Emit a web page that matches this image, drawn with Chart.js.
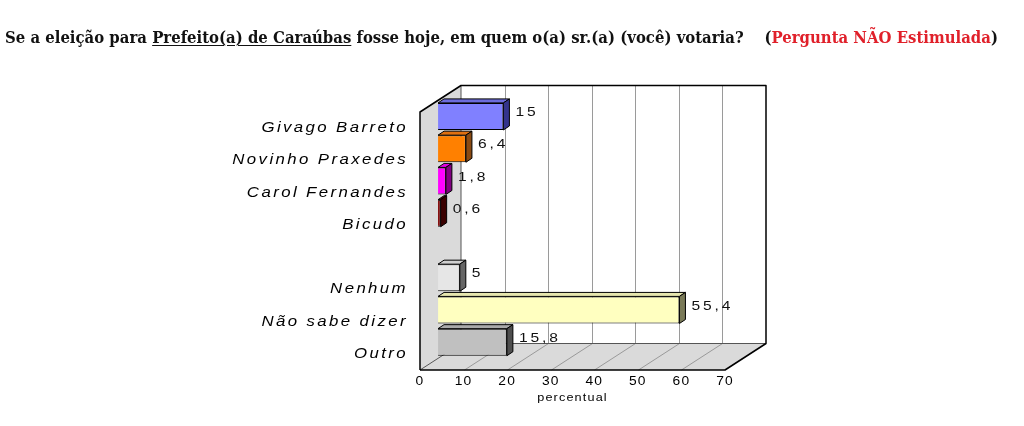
<!DOCTYPE html>
<html><head><meta charset="utf-8">
<script src="https://cdn.jsdelivr.net/npm/chart.js@4/dist/chart.umd.min.js"></script>
<style>
html,body{margin:0;padding:0;background:#fff;width:1024px;height:426px;overflow:hidden;}
#wrap{position:relative;width:1024px;height:426px;}
#title{position:absolute;left:5px;top:28px;line-height:20px;white-space:nowrap;font-family:'DejaVu Serif',serif;font-weight:bold;font-size:16.5px;color:#111;transform-origin:0 0;}
#title u{text-decoration:underline;text-underline-offset:2px;}
#title .red{color:#e0202a;}
canvas{position:absolute;left:0;top:0;}
</style></head>
<body><div id="wrap"><canvas id="c" width="1024" height="426"></canvas>
<div id="title">Se a eleição para <u>Prefeito(a) de Caraúbas</u> fosse hoje, em quem o(a) sr.(a) (você) votaria?&nbsp;&nbsp;&nbsp; (<span class="red">Pergunta NÃO Estimulada</span>)</div></div>
<script>
// ---- data ----
const categories = ['Givago Barreto', 'Novinho Praxedes', 'Carol Fernandes', 'Bicudo', '', 'Nenhum', 'Não sabe dizer', 'Outro'];
const values = [15, 6.4, 1.8, 0.6, null, 5, 55.4, 15.8];
const xTicks = [0, 10, 20, 30, 40, 50, 60, 70];
const xTitle = 'percentual';

// ---- styles ----
const barColors  = ['#8080ff', '#ff8000', '#ff00ff', '#800000', '#ffffff', '#e6e6e6', '#ffffc0', '#c0c0c0'];
const topColors  = ['#6c6cdc', '#e07010', '#e000e0', '#6a0000', '#ffffff', '#cfcfcf', '#e6e6ae', '#aaaaaa'];
const sideColors = ['#34348c', '#8a4a12', '#800080', '#3a0000', '#ffffff', '#666666', '#7a7a58', '#4e4e4e'];

// fit title width
const tEl = document.getElementById('title');
const tw = tEl.getBoundingClientRect().width;
tEl.style.transform = 'scaleX(' + (993 / tw) + ')';

const DX = 41, DY = -26.5;      // wall depth
const BT = 0.44;                // bar plane position in depth
const BX = 6, BY = -4;          // bar depth

// draw text horizontally stretched (like the original wide font) with letter spacing
function withStretch(ctx, sx, ls, fn) {
  ctx.save();
  ctx.letterSpacing = ls + 'px';
  const orig = CanvasRenderingContext2D.prototype.fillText;
  ctx.fillText = function (txt, x, y) {
    this.save(); this.translate(x, y); this.scale(sx, 1);
    orig.call(this, txt, 0, 0);
    this.restore();
  };
  try { fn(); } finally { delete ctx.fillText; ctx.restore(); }
}

const frame3d = {
  id: 'frame3d',
  beforeDraw(chart) {
    const ctx = chart.ctx;
    const {x, y} = chart.scales;
    if (!y._wrapped) {
      const oy = y.drawLabels.bind(y);
      y.drawLabels = a => withStretch(ctx, 1.2, 2, () => oy(a));
      const ox = x.drawLabels.bind(x);
      x.drawLabels = a => withStretch(ctx, 1.15, 1, () => ox(a));
      const ot = x.drawTitle.bind(x);
      x.drawTitle = () => withStretch(ctx, 1.15, 1, () => ot());
      y._wrapped = true;
    }
  },
  beforeDatasetsDraw(chart) {
    const {ctx, chartArea: a, scales: {x}} = chart;
    const L = a.left, R = a.right, T = a.top, B = a.bottom;
    ctx.save();
    ctx.lineJoin = 'round';
    // side wall
    ctx.beginPath();
    ctx.moveTo(L, T); ctx.lineTo(L + DX, T + DY); ctx.lineTo(L + DX, B + DY); ctx.lineTo(L, B); ctx.closePath();
    ctx.fillStyle = '#dadada'; ctx.fill();
    // back wall
    ctx.fillStyle = '#ffffff';
    ctx.fillRect(L + DX, T + DY, R - L, B - T);
    // floor
    ctx.beginPath();
    ctx.moveTo(L, B); ctx.lineTo(R, B); ctx.lineTo(R + DX, B + DY); ctx.lineTo(L + DX, B + DY); ctx.closePath();
    ctx.fillStyle = '#dadada'; ctx.fill();
    // grid lines
    ctx.strokeStyle = '#9a9a9a'; ctx.lineWidth = 1;
    xTicks.forEach(v => {
      if (v <= x.min || v >= x.max) return;
      const px = Math.round(x.getPixelForValue(v)) + 0.5;
      ctx.beginPath();
      ctx.moveTo(px + DX, T + DY); ctx.lineTo(px + DX, B + DY);
      ctx.stroke();
      ctx.beginPath();
      ctx.moveTo(px, B); ctx.lineTo(px + DX, B + DY);
      ctx.stroke();
    });
    // inner edges
    ctx.strokeStyle = '#555'; ctx.lineWidth = 1;
    ctx.beginPath();
    ctx.moveTo(L + DX, T + DY); ctx.lineTo(L + DX, B + DY); ctx.lineTo(R + DX, B + DY);
    ctx.moveTo(L + DX, B + DY); ctx.lineTo(L, B);
    ctx.stroke();
    // outer edges
    ctx.strokeStyle = '#000'; ctx.lineWidth = 1.5;
    ctx.beginPath();
    ctx.moveTo(L, B); ctx.lineTo(L, T); ctx.lineTo(L + DX, T + DY); ctx.lineTo(R + DX, T + DY);
    ctx.lineTo(R + DX, B + DY); ctx.lineTo(R, B); ctx.lineTo(L, B);
    ctx.stroke();
    ctx.restore();
    // move bars into their depth plane
    ctx.save();
    ctx.translate(DX * BT, DY * BT);
  },
  afterDatasetsDraw(chart) {
    const ctx = chart.ctx;
    ctx.restore();
    const ox = DX * BT, oy = DY * BT;
    const meta = chart.getDatasetMeta(0);
    ctx.save();
    ctx.lineWidth = 1; ctx.strokeStyle = '#000'; ctx.lineJoin = 'round';
    meta.data.forEach((bar, i) => {
      if (values[i] == null) return;
      const l = bar.base + ox, r = bar.x + ox;
      const t = bar.y - bar.height / 2 + oy, b = bar.y + bar.height / 2 + oy;
      // top face
      ctx.beginPath();
      ctx.moveTo(l, t); ctx.lineTo(l + BX, t + BY); ctx.lineTo(r + BX, t + BY); ctx.lineTo(r, t); ctx.closePath();
      ctx.fillStyle = topColors[i]; ctx.fill(); ctx.stroke();
      // side face
      ctx.beginPath();
      ctx.moveTo(r, t); ctx.lineTo(r + BX, t + BY); ctx.lineTo(r + BX, b + BY); ctx.lineTo(r, b); ctx.closePath();
      ctx.fillStyle = sideColors[i]; ctx.fill(); ctx.stroke();
      // value label
      withStretch(ctx, 1.2, 2.4, () => {
        ctx.fillStyle = '#111';
        ctx.font = '13px "Liberation Sans", Arial, sans-serif';
        ctx.textAlign = 'left'; ctx.textBaseline = 'middle';
        ctx.fillText(String(values[i]).replace('.', ','), r + BX + 6, (t + b) / 2 - 4);
      });
    });
    ctx.restore();
  }
};

new Chart(document.getElementById('c'), {
  type: 'bar',
  data: {
    labels: categories,
    datasets: [{
      data: values,
      backgroundColor: barColors,
      borderColor: '#000',
      borderWidth: 1,
      barPercentage: 0.84,
      categoryPercentage: 1,
      clip: false
    }]
  },
  options: {
    indexAxis: 'y',
    responsive: false,
    animation: false,
    devicePixelRatio: 1,
    layout: {padding: {left: 0, top: 112, right: 299, bottom: 0}},
    plugins: {legend: {display: false}, tooltip: {enabled: false}},
    scales: {
      x: {
        min: 0, max: 70,
        ticks: {stepSize: 10, color: '#000', font: {family: '"Liberation Sans", Arial', size: 12}, padding: 4},
        grid: {display: false, drawTicks: false},
        border: {display: false},
        title: {display: true, text: xTitle, color: '#000', font: {family: '"Liberation Sans", Arial', size: 11}, padding: {top: 0, bottom: 21}},
        afterFit(s) { s.height = 56; }
      },
      y: {
        ticks: {color: '#000', font: {family: '"Liberation Sans", Arial', size: 14, style: 'italic'}, padding: 4},
        grid: {display: false},
        border: {display: false},
        afterFit(s) { s.width = 420; }
      }
    }
  },
  plugins: [frame3d]
});
</script>
</body></html>
